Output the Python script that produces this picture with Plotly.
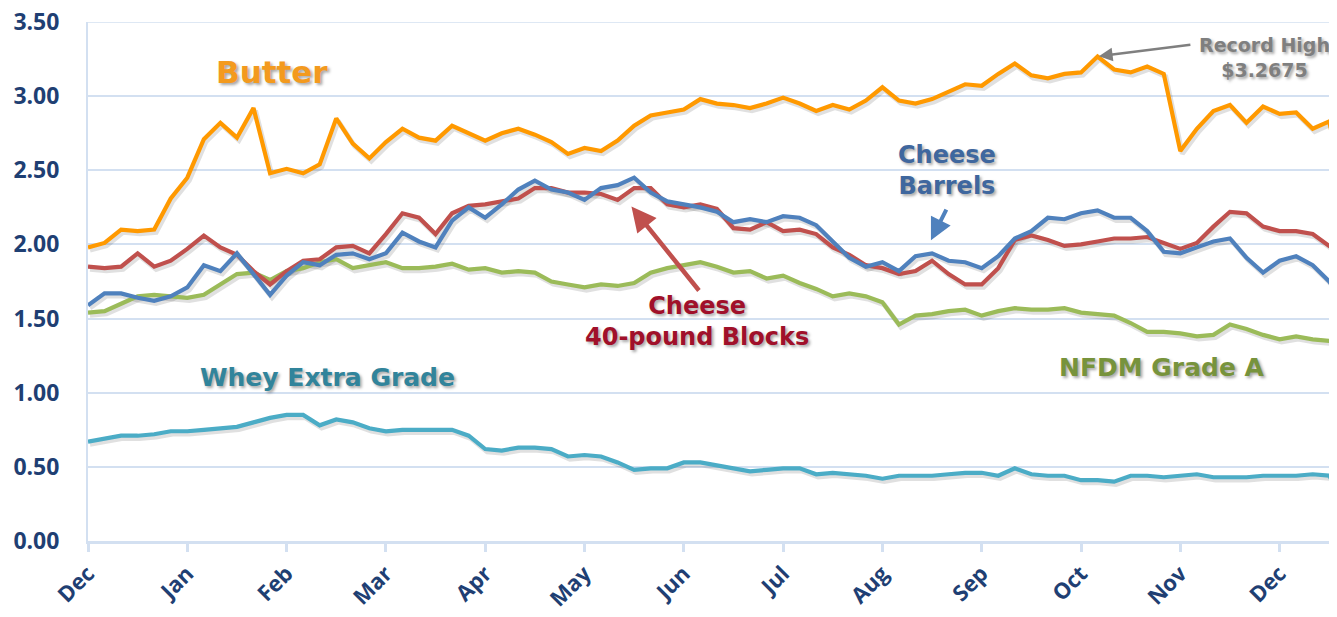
import plotly.graph_objects as go

# ---- data (month index, 0 = Dec of prior year) ----
month_labels = ["Dec", "Jan", "Feb", "Mar", "Apr", "May", "Jun", "Jul",
                "Aug", "Sep", "Oct", "Nov", "Dec"]
month_pos = list(range(13))

x_months = [k / 6 for k in range(76)] + [12.58]

butter = [1.98, 2.01, 2.10, 2.09, 2.10, 2.31, 2.45, 2.71, 2.82, 2.72,
          2.92, 2.48, 2.51, 2.48, 2.54, 2.85, 2.68, 2.58, 2.69, 2.78,
          2.72, 2.70, 2.80, 2.75, 2.70, 2.75, 2.78, 2.74, 2.69, 2.61,
          2.65, 2.63, 2.70, 2.80, 2.87, 2.89, 2.91, 2.98, 2.95, 2.94,
          2.92, 2.95, 2.99, 2.95, 2.90, 2.94, 2.91, 2.97, 3.06, 2.97,
          2.95, 2.98, 3.03, 3.08, 3.07, 3.15, 3.22, 3.14, 3.12, 3.15,
          3.16, 3.2675, 3.18, 3.16, 3.20, 3.15, 2.63, 2.78, 2.90, 2.94,
          2.82, 2.93, 2.88, 2.89, 2.78, 2.83, 2.58]

blocks = [1.85, 1.84, 1.85, 1.94, 1.85, 1.89, 1.97, 2.06, 1.98, 1.93,
          1.82, 1.73, 1.82, 1.89, 1.90, 1.98, 1.99, 1.94, 2.07, 2.21,
          2.18, 2.07, 2.21, 2.26, 2.27, 2.29, 2.31, 2.38, 2.38, 2.35,
          2.35, 2.34, 2.30, 2.38, 2.38, 2.27, 2.25, 2.27, 2.24, 2.11,
          2.10, 2.15, 2.09, 2.10, 2.07, 1.98, 1.93, 1.86, 1.84, 1.80,
          1.82, 1.89, 1.80, 1.73, 1.73, 1.84, 2.03, 2.06, 2.03, 1.99,
          2.00, 2.02, 2.04, 2.04, 2.05, 2.01, 1.97, 2.01, 2.12, 2.22,
          2.21, 2.12, 2.09, 2.09, 2.07, 1.99, 2.00]

barrels = [1.59, 1.67, 1.67, 1.64, 1.62, 1.65, 1.71, 1.86, 1.82, 1.94,
           1.80, 1.66, 1.79, 1.88, 1.86, 1.93, 1.94, 1.90, 1.94, 2.08,
           2.02, 1.98, 2.16, 2.25, 2.18, 2.27, 2.37, 2.43, 2.37, 2.35,
           2.30, 2.38, 2.40, 2.45, 2.35, 2.29, 2.27, 2.25, 2.22, 2.15,
           2.17, 2.15, 2.19, 2.18, 2.13, 2.02, 1.91, 1.85, 1.88, 1.82,
           1.92, 1.94, 1.89, 1.88, 1.84, 1.92, 2.04, 2.09, 2.18, 2.17,
           2.21, 2.23, 2.18, 2.18, 2.09, 1.95, 1.94, 1.98, 2.02, 2.04,
           1.91, 1.81, 1.89, 1.92, 1.86, 1.75, 1.68]

nfdm = [1.54, 1.55, 1.60, 1.65, 1.66, 1.65, 1.64, 1.66, 1.73, 1.80,
        1.81, 1.76, 1.82, 1.84, 1.88, 1.90, 1.84, 1.86, 1.88, 1.84,
        1.84, 1.85, 1.87, 1.83, 1.84, 1.81, 1.82, 1.81, 1.75, 1.73,
        1.71, 1.73, 1.72, 1.74, 1.81, 1.84, 1.86, 1.88, 1.85, 1.81,
        1.82, 1.77, 1.79, 1.74, 1.70, 1.65, 1.67, 1.65, 1.61, 1.46,
        1.52, 1.53, 1.55, 1.56, 1.52, 1.55, 1.57, 1.56, 1.56, 1.57,
        1.54, 1.53, 1.52, 1.47, 1.41, 1.41, 1.40, 1.38, 1.39, 1.46,
        1.43, 1.39, 1.36, 1.38, 1.36, 1.35, 1.36]

whey = [0.67, 0.69, 0.71, 0.71, 0.72, 0.74, 0.74, 0.75, 0.76, 0.77,
        0.80, 0.83, 0.85, 0.85, 0.78, 0.82, 0.80, 0.76, 0.74, 0.75,
        0.75, 0.75, 0.75, 0.71, 0.62, 0.61, 0.63, 0.63, 0.62, 0.57,
        0.58, 0.57, 0.53, 0.48, 0.49, 0.49, 0.53, 0.53, 0.51, 0.49,
        0.47, 0.48, 0.49, 0.49, 0.45, 0.46, 0.45, 0.44, 0.42, 0.44,
        0.44, 0.44, 0.45, 0.46, 0.46, 0.44, 0.49, 0.45, 0.44, 0.44,
        0.41, 0.41, 0.40, 0.44, 0.44, 0.43, 0.44, 0.45, 0.43, 0.43,
        0.43, 0.44, 0.44, 0.44, 0.45, 0.44, 0.35]

y_ticks = [0, 0.5, 1.0, 1.5, 2.0, 2.5, 3.0, 3.5]

series = [
    ("NFDM Grade A", nfdm, "#9BBB59"),
    ("Cheese 40-pound Blocks", blocks, "#C0504D"),
    ("Cheese Barrels", barrels, "#4F81BD"),
    ("Butter", butter, "#FF9900"),
    ("Whey Extra Grade", whey, "#4BACC6"),
]

grid_col = "#D3E0F1"

fig = go.Figure()
# top gridline (at the upper edge of the plot area)
fig.add_shape(type="line", xref="paper", yref="y", x0=0, x1=1,
              y0=y_ticks[-1], y1=y_ticks[-1], line=dict(color=grid_col, width=1.5),
              layer="below")
# soft drop shadows under the lines
for name, vals, col in series:
    fig.add_trace(go.Scatter(x=[v + 0.02 for v in x_months], y=[v - 0.018 for v in vals],
                             mode="lines", line=dict(color="rgba(0,0,0,0.12)", width=5),
                             hoverinfo="skip", showlegend=False))
for name, vals, col in series:
    fig.add_trace(go.Scatter(x=x_months, y=vals, mode="lines", name=name,
                             line=dict(color=col, width=4.2), showlegend=False))

lab_font = "DejaVu Sans, Noto Sans, sans-serif"
shadow = "2px 2px 3px rgba(0,0,0,0.35)"
label_specs = [
    ("<b>Butter</b>", 1.85, 3.16, "#F39A1E", 31),
    ("<b>Cheese<br>Barrels</b>", 8.65, 2.50, "#3F679E", 24),
    ("<b>Cheese<br>40-pound Blocks</b>", 6.13, 1.483, "#A0102A", 24),
    ("<b>Whey Extra Grade</b>", 2.41, 1.10, "#31849B", 25),
    ("<b>NFDM Grade A</b>", 10.82, 1.167, "#77933C", 25),
    ("<b>Record High<br>$3.2675</b>", 11.85, 3.26, "#7F7F7F", 19),
]
for txt, xm, yv, col, sz in label_specs:
    fig.add_annotation(x=xm, y=yv, text=txt, showarrow=False,
                       font=dict(family=lab_font, size=sz, color=col, shadow=shadow),
                       xanchor="center", yanchor="middle", align="center")

# arrows
arrow_specs = [
    (10.16, 3.2675, 95, -12, "#7F7F7F", 2.5),
    (8.48, 2.016, 17, -34, "#4F81BD", 4),
    (5.46, 2.266, 70, 87, "#C0504D", 4.5),
]
for xm, yv, ax, ay, col, w in arrow_specs:
    fig.add_annotation(x=xm, y=yv, ax=ax, ay=ay, text="", showarrow=True,
                       arrowhead=2, arrowsize=1.1, arrowwidth=w, arrowcolor=col,
                       standoff=2)

tick_font = dict(family="Open Sans, Lato, sans-serif", size=23, color="#1F3F73")
# the page body adds an 8px offset; size the figure so the plot area lands
# at x 88..1337, y 22..541 of the window
fig.update_layout(
    width=1329, height=609,
    margin=dict(l=80, r=0, t=14, b=76),
    paper_bgcolor="white", plot_bgcolor="white",
    xaxis=dict(range=[0, 12.578], tickvals=month_pos,
               ticktext=["<b>%s</b>" % m for m in month_labels],
               tickangle=-45, tickfont=dict(family="Open Sans, Lato, sans-serif",
                                            size=22, color="#1F3F73"),
               showgrid=False, zeroline=False, automargin=False,
               ticklabeloverflow="allow",
               showline=True, linecolor=grid_col, linewidth=3,
               ticks="outside", ticklen=8, tickwidth=3, tickcolor=grid_col),
    yaxis=dict(range=[0, 3.5], tickvals=y_ticks,
               ticktext=["<b>%.2f</b>" % v for v in y_ticks],
               tickfont=tick_font, showgrid=True, gridcolor=grid_col, gridwidth=1.5,
               zeroline=False, showline=True, linecolor=grid_col, linewidth=2,
               automargin=False, ticklabeloverflow="allow",
               ticks="", ticklabelstandoff=22),
)

fig.write_html("out.html")
